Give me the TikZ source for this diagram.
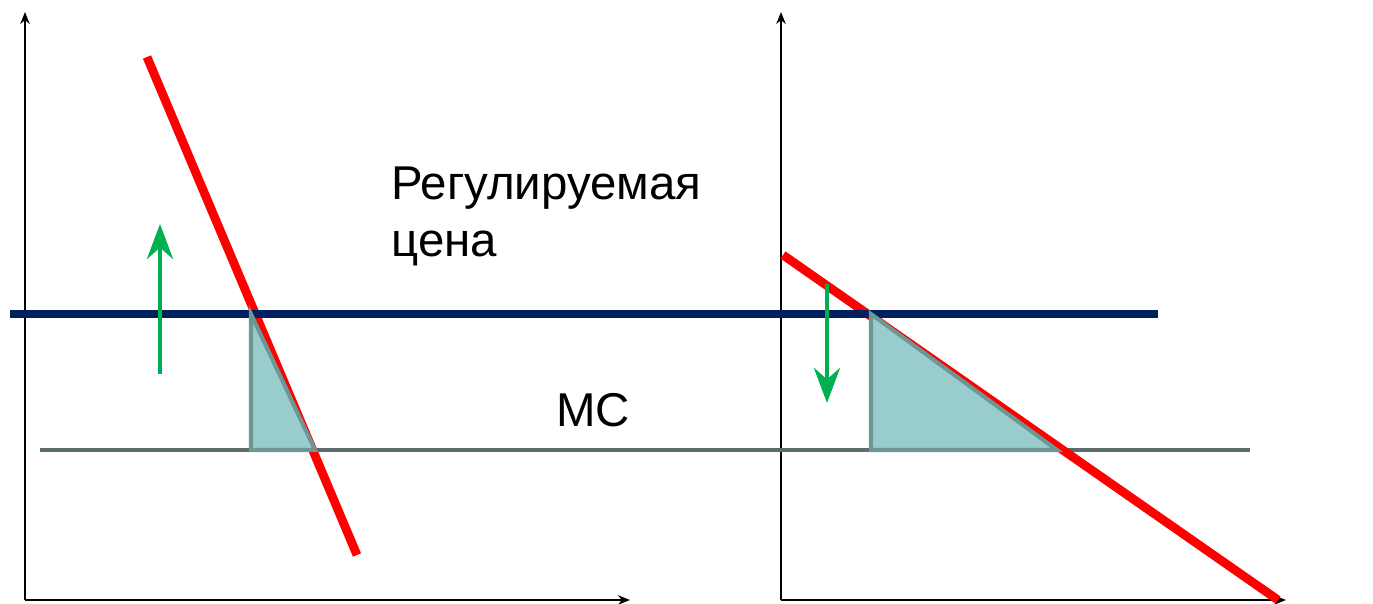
\documentclass[tikz,border=0pt]{standalone}
\usepackage{fontspec}
\setmainfont{Liberation Sans}
\usetikzlibrary{arrows.meta}
\definecolor{demandred}{RGB}{255,0,0}
\definecolor{pricenavy}{RGB}{0,32,96}
\definecolor{mcgray}{RGB}{92,108,106}
\definecolor{shiftgreen}{RGB}{0,176,80}
\definecolor{lossfill}{RGB}{153,204,204}
\definecolor{lossedge}{RGB}{110,150,148}

\begin{document}
\begin{tikzpicture}[x=0.02cm,y=-0.02cm,
    axis/.style={line width=1.1pt, -{Stealth[length=0.24cm,width=0.19cm]}},
    demand/.style={demandred, line width=5pt},
    regprice/.style={pricenavy, line width=4pt},
    mcline/.style={mcgray, line width=2.3pt},
    pricemove/.style={shiftgreen, line width=2.8pt, -{Stealth[length=0.7cm,width=0.52cm]}},
    loss/.style={fill=lossfill, draw=lossedge, line width=2.3pt, line join=miter},
    txt/.style={font=\fontsize{27}{32}\selectfont, inner sep=0pt}]

\useasboundingbox (0,0) rectangle (1373,604);

% Axes
\coordinate (o1) at (25,600);
\coordinate (y1) at (25,12);
\coordinate (x1) at (630,600);
\coordinate (o2) at (781,600);
\coordinate (y2) at (781,12);
\coordinate (x2) at (1286,600);
\draw[axis] (o1) -- (y1);
\draw[axis] (o1) -- (x1);
\draw[axis] (o2) -- (y2);
\draw[axis] (o2) -- (x2);

% MC line
\coordinate (mcl) at (40,450);
\coordinate (mcr) at (1250,450);
\draw[mcline] (mcl) -- (mcr);

% Demand curves
\coordinate (da1) at (147,57);
\coordinate (db1) at (357,555);
\coordinate (da2) at (783,255);
\coordinate (db2) at (1278,600);
\draw[demand] (da1) -- (db1);
\draw[demand] (da2) -- (db2);

% Regulated price
\coordinate (pl) at (10,314);
\coordinate (pr) at (1158,314);
\draw[regprice] (pl) -- (pr);

% Loss triangles
\coordinate (ta1) at (251,314);
\coordinate (tb1) at (251,450);
\coordinate (tc1) at (315,450);
\coordinate (ta2) at (871,314);
\coordinate (tb2) at (871,450);
\coordinate (tc2) at (1057,450);
\filldraw[loss] (ta1) -- (tb1) -- (tc1) -- cycle;
\filldraw[loss] (ta2) -- (tb2) -- (tc2) -- cycle;

% Price shifts
\coordinate (up0) at (160,374);
\coordinate (up1) at (160,224);
\coordinate (dn0) at (827,284);
\coordinate (dn1) at (827,403);
\draw[pricemove] (up0) -- (up1);
\draw[pricemove] (dn0) -- (dn1);

% Labels
\node[txt, anchor=base west] (price1) at (391,200) {Регулируемая};
\node[txt, anchor=base west] (price2) at (391,257) {цена};
\node[txt, anchor=base west] (mc) at (556,427) {MC};

\end{tikzpicture}
\end{document}
